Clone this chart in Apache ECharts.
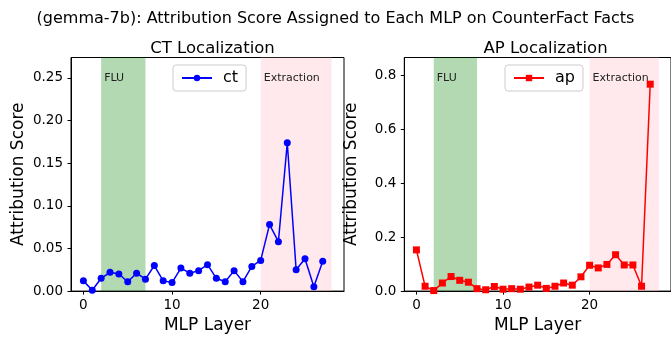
<!DOCTYPE html>
<html>
<head>
<meta charset="utf-8">
<script src="https://cdn.jsdelivr.net/npm/echarts@6/dist/echarts.min.js"></script>
<style>html,body{margin:0;padding:0;background:#fff;}#c{width:671px;height:339px;}</style>
</head>
<body>
<div id="c"></div>
<script>
const layers = [0,1,2,3,4,5,6,7,8,9,10,11,12,13,14,15,16,17,18,19,20,21,22,23,24,25,26,27];
const ctScores = [0.012,0.001,0.015,0.022,0.020,0.011,0.021,0.014,0.030,0.012,0.010,0.027,0.021,0.024,0.031,0.015,0.011,0.024,0.011,0.029,0.036,0.078,0.058,0.174,0.025,0.038,0.005,0.035];
const apScores = [0.153,0.018,0.002,0.030,0.054,0.040,0.033,0.009,0.005,0.017,0.007,0.009,0.007,0.015,0.022,0.010,0.018,0.030,0.022,0.053,0.096,0.086,0.099,0.135,0.097,0.097,0.018,0.768];
const xTicks = [0,10,20];
const ctTicks = [0,0.05,0.10,0.15,0.20,0.25];
const apTicks = [0,0.2,0.4,0.6,0.8];
const fluRange = [2,7];
const extractionRange = [20,28];
const bandNames = ['FLU','Extraction'];

const FONT = 'DejaVu Sans';
const chart = echarts.init(document.getElementById('c'), null, {renderer:'canvas'});

function bands() {
  return {
    silent: true,
    label: {show:true, position: 'insideTopLeft', distance: 3, offset:[0, 12], color:'#222', fontFamily: FONT, fontSize: 11},
    data: [
      [{name: bandNames[0], xAxis: fluRange[0], itemStyle:{color:'rgba(0,128,0,0.3)'}}, {xAxis: fluRange[1]}],
      [{name: bandNames[1], xAxis: extractionRange[0], itemStyle:{color:'rgba(255,192,203,0.35)'}}, {xAxis: extractionRange[1]}]
    ]
  };
}

function xAxisCfg(idx) {
  return {
    type:'value', gridIndex: idx, min:-1.4, max:29.4,
    name:'MLP Layer', nameLocation:'middle', nameGap:22,
    nameTextStyle:{fontFamily:FONT, fontSize:17, color:'#000'},
    axisLine:{show:true, onZero:false, lineStyle:{color:'#000', width:1}},
    axisTick:{show:true, length:3.5, lineStyle:{color:'#000'}, customValues: xTicks},
    axisLabel:{color:'#000', fontFamily:FONT, fontSize:13.5, margin:7, customValues: xTicks},
    splitLine:{show:false}
  };
}
function yAxisCfg(idx, max, ticks, dec) {
  return {
    type:'value', gridIndex: idx, min:0, max:max,
    name:'Attribution Score', nameLocation:'middle', nameGap:44,
    nameTextStyle:{fontFamily:FONT, fontSize:17, color:'#000'},
    axisLine:{show:true, onZero:false, lineStyle:{color:'#000', width:1}},
    axisTick:{show:true, length:3.5, lineStyle:{color:'#000'}, customValues: ticks},
    axisLabel:{color:'#000', fontFamily:FONT, fontSize:13.5, margin:8, customValues: ticks, formatter: v => v.toFixed(dec)},
    splitLine:{show:false}
  };
}

chart.setOption({
  animation:false,
  backgroundColor:'#fff',
  title:[
    {text:'(gemma-7b): Attribution Score Assigned to Each MLP on CounterFact Facts', left:'center', top:6,
     textStyle:{fontFamily:FONT, fontSize:16, fontWeight:'normal', color:'#000'}},
    {text:'CT Localization', left:207.5, top:35, textAlign:'center',
     textStyle:{fontFamily:FONT, fontSize:16.5, fontWeight:'normal', color:'#000'}},
    {text:'AP Localization', left:540.5, top:35, textAlign:'center',
     textStyle:{fontFamily:FONT, fontSize:16.5, fontWeight:'normal', color:'#000'}}
  ],
  legend:[
    {data:['ct'], left:173, top:65, padding:[5,8], itemWidth:30, itemHeight:8,
     backgroundColor:'#fff', borderColor:'#ccc', borderWidth:1, borderRadius:3,
     textStyle:{fontFamily:FONT, fontSize:16, color:'#000', padding:[0,0,0,6]}},
    {data:['ap'], left:505, top:65, padding:[5,8], itemWidth:30, itemHeight:8,
     backgroundColor:'#fff', borderColor:'#ccc', borderWidth:1, borderRadius:3,
     textStyle:{fontFamily:FONT, fontSize:16, color:'#000', padding:[0,0,0,6]}}
  ],
  grid:[
    {left:71, top:57.5, width:273, height:235.8, show:true, borderColor:'#000', borderWidth:1, backgroundColor:'transparent'},
    {left:404.3, top:57.5, width:273, height:235.8, show:true, borderColor:'#000', borderWidth:1, backgroundColor:'transparent'}
  ],
  xAxis:[xAxisCfg(0), xAxisCfg(1)],
  yAxis:[yAxisCfg(0, 0.274, ctTicks, 2), yAxisCfg(1, 0.867, apTicks, 1)],
  series:[
    {name:'ct', type:'line', xAxisIndex:0, yAxisIndex:0,
     data: layers.map((l,i)=>[l, ctScores[i]]),
     symbol:'circle', symbolSize:7, showAllSymbol:true,
     lineStyle:{color:'#0000ff', width:1.5}, itemStyle:{color:'#0000ff'},
     markArea: bands(), z:3},
    {name:'ap', type:'line', xAxisIndex:1, yAxisIndex:1,
     data: layers.map((l,i)=>[l, apScores[i]]),
     symbol:'rect', symbolSize:7, showAllSymbol:true,
     lineStyle:{color:'#ff0000', width:1.5}, itemStyle:{color:'#ff0000'},
     markArea: bands(), z:3}
  ]
});
</script>
</body>
</html>
